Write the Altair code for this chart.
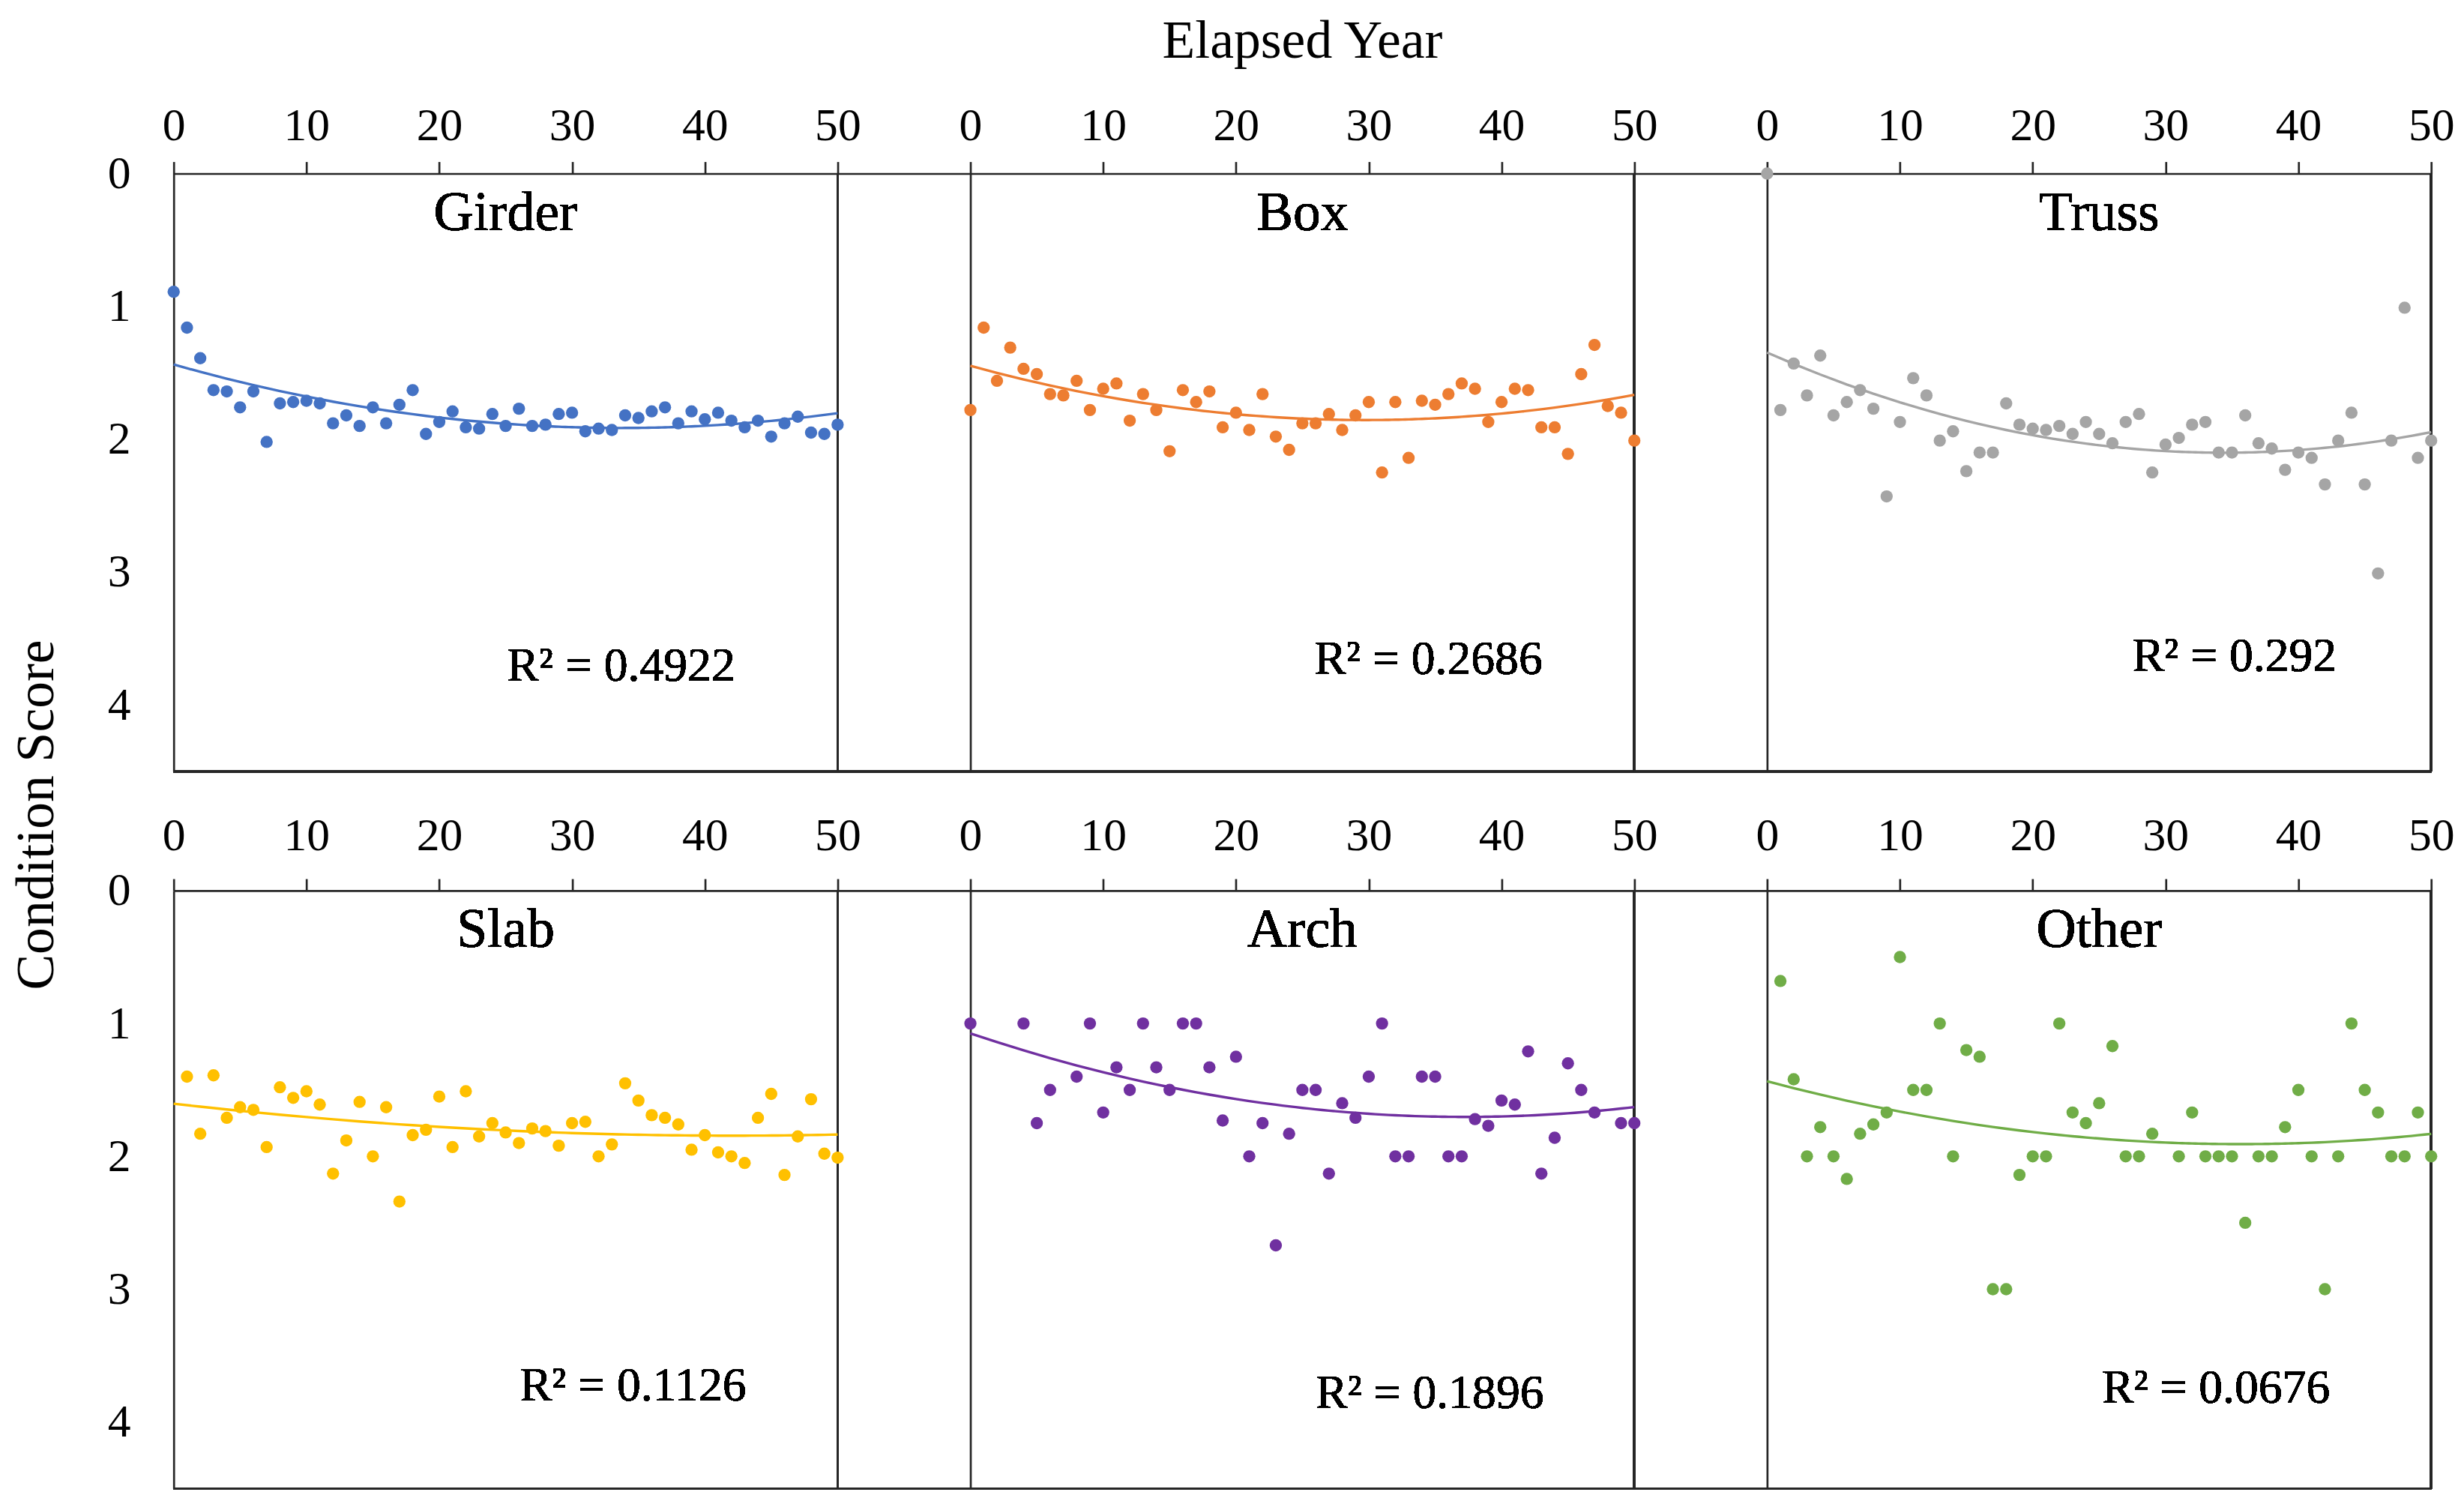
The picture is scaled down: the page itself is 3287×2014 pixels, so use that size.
import altair as alt
import pandas as pd

FONT = "Liberation Serif"
LINE = "#262626"

# ---------------- data ----------------
girder_years = list(range(0, 51))
girder_scores = [0.89, 1.16, 1.39, 1.63, 1.64, 1.76, 1.64, 2.02, 1.73, 1.72,
                 1.71, 1.73, 1.88, 1.82, 1.90, 1.76, 1.88, 1.74, 1.63, 1.96,
                 1.87, 1.79, 1.91, 1.92, 1.81, 1.90, 1.77, 1.90, 1.89, 1.81,
                 1.80, 1.94, 1.92, 1.93, 1.82, 1.84, 1.79, 1.76, 1.88, 1.79,
                 1.85, 1.80, 1.86, 1.91, 1.86, 1.98, 1.88, 1.83, 1.95, 1.96,
                 1.89]

box_years = list(range(0, 51))
box_scores = [1.78, 1.16, 1.56, 1.31, 1.47, 1.51, 1.66, 1.67, 1.56, 1.78,
              1.62, 1.58, 1.86, 1.66, 1.78, 2.09, 1.63, 1.72, 1.64, 1.91,
              1.80, 1.93, 1.66, 1.98, 2.08, 1.88, 1.88, 1.81, 1.93, 1.82,
              1.72, 2.25, 1.72, 2.14, 1.71, 1.74, 1.66, 1.58, 1.62, 1.87,
              1.72, 1.62, 1.63, 1.91, 1.91, 2.11, 1.51, 1.29, 1.75, 1.80,
              2.01]

truss_years = list(range(0, 51))
truss_scores = [0.00, 1.78, 1.43, 1.67, 1.37, 1.82, 1.72, 1.63, 1.77, 2.43,
                1.87, 1.54, 1.67, 2.01, 1.94, 2.24, 2.10, 2.10, 1.73, 1.89,
                1.92, 1.93, 1.90, 1.96, 1.87, 1.96, 2.03, 1.87, 1.81, 2.25,
                2.04, 1.99, 1.89, 1.87, 2.10, 2.10, 1.82, 2.03, 2.07, 2.23,
                2.10, 2.14, 2.34, 2.01, 1.80, 2.34, 3.01, 2.01, 1.01, 2.14,
                2.01]

slab_years = list(range(1, 51))
slab_scores = [1.40, 1.83, 1.39, 1.71, 1.63, 1.65, 1.93, 1.48, 1.56, 1.51,
               1.61, 2.13, 1.88, 1.59, 2.00, 1.63, 2.34, 1.84, 1.80, 1.55,
               1.93, 1.51, 1.85, 1.75, 1.82, 1.90, 1.79, 1.81, 1.92, 1.75,
               1.74, 2.00, 1.91, 1.45, 1.58, 1.69, 1.71, 1.76, 1.95, 1.84,
               1.97, 2.00, 2.05, 1.71, 1.53, 2.14, 1.85, 1.57, 1.98, 2.01]

arch_years = [0, 4, 5, 6, 8, 9, 10, 11, 12, 13, 14, 15, 16, 17, 18, 19, 20,
              21, 22, 23, 24, 25, 26, 27, 28, 29, 30, 31, 32, 33, 34, 35, 36,
              37, 38, 39, 40, 41, 42, 43, 44, 45, 46, 47, 49, 50]
arch_scores = [1.00, 1.00, 1.75, 1.50, 1.40, 1.00, 1.67, 1.33, 1.50, 1.00,
               1.33, 1.50, 1.00, 1.00, 1.33, 1.73, 1.25, 2.00, 1.75, 2.67,
               1.83, 1.50, 1.50, 2.13, 1.60, 1.71, 1.40, 1.00, 2.00, 2.00,
               1.40, 1.40, 2.00, 2.00, 1.72, 1.77, 1.58, 1.61, 1.21, 2.13,
               1.86, 1.30, 1.50, 1.67, 1.75, 1.75]

other_years = [1, 2, 3, 4, 5, 6, 7, 8, 9, 10, 11, 12, 13, 14, 15, 16, 17, 18,
               19, 20, 21, 22, 23, 24, 25, 26, 27, 28, 29, 31, 32, 33, 34, 35,
               36, 37, 38, 39, 40, 41, 42, 43, 44, 45, 46, 47, 48, 49, 50]
other_scores = [0.68, 1.42, 2.00, 1.78, 2.00, 2.17, 1.83, 1.76, 1.67, 0.50,
                1.50, 1.50, 1.00, 2.00, 1.20, 1.25, 3.00, 3.00, 2.14, 2.00,
                2.00, 1.00, 1.67, 1.75, 1.60, 1.17, 2.00, 2.00, 1.83, 2.00,
                1.67, 2.00, 2.00, 2.00, 2.50, 2.00, 2.00, 1.78, 1.50, 2.00,
                3.00, 2.00, 1.00, 1.50, 1.67, 2.00, 2.00, 1.67, 2.00]

panel_names = ["Girder", "Box", "Truss", "Slab", "Arch", "Other"]
panel_colors = ["#4472C4", "#ED7D31", "#A5A5A5", "#FFC000", "#7030A0", "#70AD47"]
r2_labels = ["R² = 0.4922", "R² = 0.2686", "R² = 0.292",
             "R² = 0.1126", "R² = 0.1896", "R² = 0.0676"]
r2_x = [33.7, 34.5, 35.2, 34.6, 34.6, 33.8]
r2_y = [3.71, 3.66, 3.64, 3.73, 3.79, 3.75]
x_ticks = [0, 10, 20, 30, 40, 50]
y_ticks = [0, 1, 2, 3, 4]

panel_data = [
    (girder_years, girder_scores),
    (box_years, box_scores),
    (truss_years, truss_scores),
    (slab_years, slab_scores),
    (arch_years, arch_scores),
    (other_years, other_scores),
]

UNIT = 17.82       # px per year
H = 802
LW = 2.7


def panel(i):
    row, col = divmod(i, 3)
    years, scores = panel_data[i]
    df = pd.DataFrame({"year": years, "score": scores})
    color = panel_colors[i]
    last = col == 2
    dom = [0, 50] if last else [0, 60]
    width = round(UNIT * (50 if last else 60))

    xaxis_kw = dict(
        orient="top", values=x_ticks, grid=False, format="d",
        domain=True, domainColor=LINE, domainWidth=LW,
        ticks=True, tickSize=16, tickColor=LINE, tickWidth=LW,
        labelFont=FONT, labelFontSize=62, labelColor="#000",
        labelBaseline="alphabetic", labelPadding=29 if row == 0 else 39,
        labelFlush=False, labelOverlap=False,
    )
    if row == 0 and col == 1:
        xaxis_kw.update(title="Elapsed Year", titleX=445, titleY=-178,
                        titleFont=FONT, titleFontSize=72, titleFontWeight="normal",
                        titleColor="#000", titleBaseline="middle", titleAlign="center")
    else:
        xaxis_kw.update(title=None)

    yaxis_kw = dict(
        orient="left", values=y_ticks, grid=False, format="d",
        domain=True, domainColor=LINE, domainWidth=LW, ticks=False,
        labels=(col == 0), labelFont=FONT, labelFontSize=62, labelColor="#000",
        labelBaseline="middle", labelPadding=58, labelFlush=False,
    )
    if row == 0 and col == 0:
        yaxis_kw.update(title="Condition Score", titleAngle=270, titleX=-184,
                        titleY=860, titleFont=FONT, titleFontSize=72,
                        titleFontWeight="normal", titleColor="#000",
                        titleBaseline="middle", titleAlign="center")
    else:
        yaxis_kw.update(title=None)

    X = alt.X("year:Q", scale=alt.Scale(domain=dom, nice=False, zero=False),
              axis=alt.Axis(**xaxis_kw))
    Y = alt.Y("score:Q", scale=alt.Scale(domain=[0, 4.5], reverse=True, nice=False,
                                         zero=False),
              axis=alt.Axis(**yaxis_kw))

    base = alt.Chart(df)
    pts = base.mark_circle(size=270, opacity=1, color=color).encode(x=X, y=Y)
    fit = base.transform_regression(
        "year", "score", method="poly", order=2, extent=[0, 50]
    ).mark_line(color=color, strokeWidth=3.4).encode(x=X, y=Y)

    right = base.mark_rule(color=LINE, strokeWidth=LW).encode(
        x=alt.datum(50), y=alt.datum(0), y2=alt.datum(4.5))
    bottom = base.mark_rule(color=LINE, strokeWidth=LW).encode(y=alt.datum(4.5))
    name = base.mark_text(text=panel_names[i], font=FONT, fontSize=74,
                          baseline="middle", align="center", color="#000").encode(
        x=alt.datum(25), y=alt.datum(0.3))
    r2 = base.mark_text(text=r2_labels[i], font=FONT, fontSize=64,
                        baseline="middle", align="center", color="#000").encode(
        x=alt.datum(r2_x[i]), y=alt.datum(r2_y[i]))

    return alt.layer(bottom, right, fit, pts, name, r2).properties(
        width=width, height=H)


chart = alt.concat(
    *[panel(i) for i in range(6)],
    columns=3, spacing={"row": 160, "column": 0}, bounds="flush",
).configure_view(stroke=None).properties(background="white")

chart.save("out.html", embed_options={"renderer": "svg", "actions": False})
